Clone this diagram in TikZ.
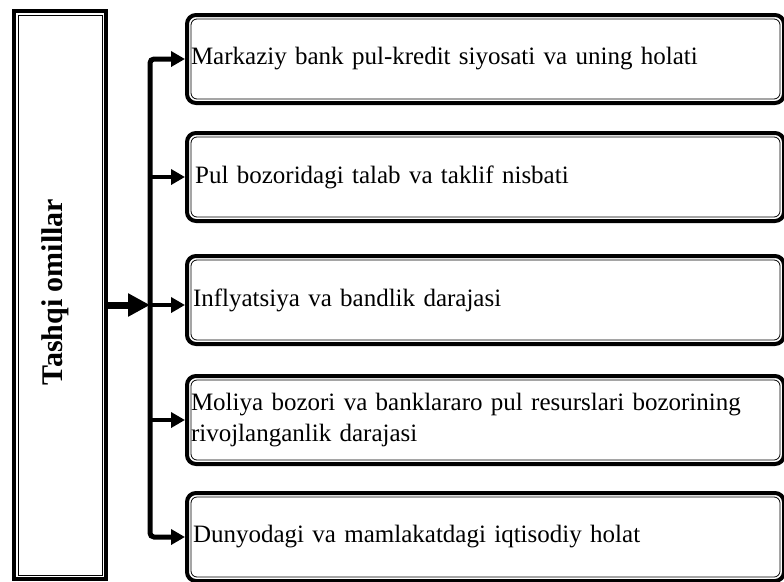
\documentclass[tikz,border=0pt]{standalone}
\usepackage{fontspec}
\setmainfont{Liberation Serif}
\usetikzlibrary{arrows.meta,calc}
\tikzset{
  quti/.style={draw,line width=4pt,rounded corners=9pt,fill=white,align=left,anchor=west,
               text width=589pt,inner xsep=4pt,minimum height=88pt,
               font=\fontsize{25}{31}\selectfont},
  ichki/.style={draw,line width=0.8pt,rounded corners=6pt},
  shox/.style={line width=4pt,-{Triangle[length=14pt,width=15pt]}},
}
\begin{document}
\begin{tikzpicture}[x=1pt,y=-1pt]
  \useasboundingbox (0,0) rectangle (784,581);
  \node[draw,line width=4pt,minimum width=92pt,minimum height=568pt] (chap) at (60,295) {};
  \node[rotate=90,font=\bfseries\fontsize{30}{36}\selectfont] (sarlavha) at (55,292) {Tashqi omillar};
  \node[quti] (b1) at (185,59) {Markaziy bank pul-kredit siyosati va uning holati};
  \node[quti] (b2) at (185,177) {\,Pul bozoridagi talab va taklif nisbati};
  \node[quti] (b3) at (185,300) {\kern2pt Inflyatsiya va bandlik darajasi};
  \node[quti] (b4) at (185,420) {Moliya bozori va banklararo pul resurslari bozorining\\rivojlanganlik darajasi};
  \node[quti] (b5) at (185,537) {\kern2pt Dunyodagi va mamlakatdagi iqtisodiy holat};
  \coordinate (tana) at (150,305);
  % ichki chiziqlar
  \foreach \n in {b1,b2,b3,b4,b5}
    \draw[ichki] ($(\n.south west)+(6pt,6pt)$) rectangle ($(\n.north east)-(6pt,6pt)$);
  \draw[ichki,sharp corners] ($(chap.south west)+(6pt,6pt)$) rectangle ($(chap.north east)-(6pt,6pt)$);
  % strelkalar
  \draw[line width=7pt,-{Triangle[length=22pt,width=22pt]}] (chap.east |- tana) -- (tana);
  \draw[shox,line width=5pt,rounded corners=4pt,{Triangle[length=14pt,width=15pt]}-{Triangle[length=14pt,width=15pt]}]
    (b1.west) -| (tana) |- (b5.west);
  \draw[shox] (tana) -- (tana -| b3.west);
  \foreach \i in {2,4} \draw[shox] (tana |- b\i.west) -- (b\i.west);
\end{tikzpicture}
\end{document}
